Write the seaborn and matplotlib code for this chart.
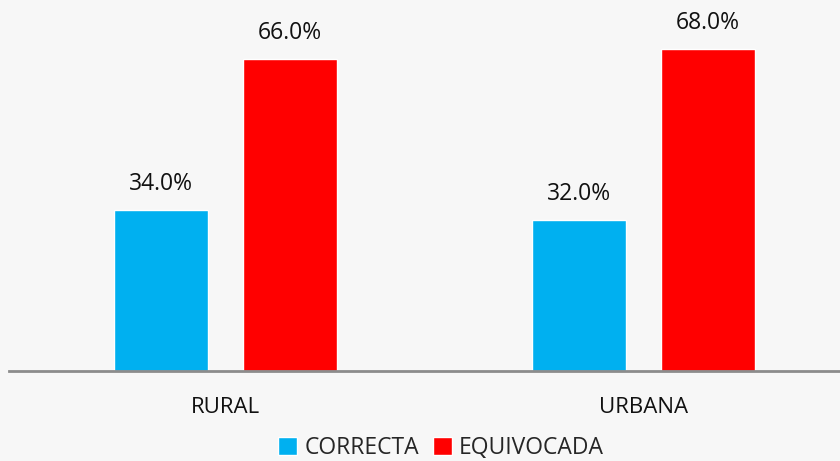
import pandas as pd
import seaborn as sns
import matplotlib.pyplot as plt

zonas = ['RURAL', 'URBANA']
respuestas = ['CORRECTA', 'EQUIVOCADA']
correcta = [34.0, 32.0]
equivocada = [66.0, 68.0]
colores = ['#00B0F0', '#FF0000']

data = pd.DataFrame({
    'zona': zonas * 2,
    'respuesta': [respuestas[0]] * 2 + [respuestas[1]] * 2,
    'pct': correcta + equivocada,
})

sns.set_theme(style='white')
plt.rcParams['font.family'] = ['Open Sans', 'DejaVu Sans']

fig = plt.figure(figsize=(8.4, 4.61), dpi=100)
fig.patch.set_facecolor('#F7F7F7')
ax = fig.add_axes([9 / 840, 90 / 461, 1 - 9 / 840, 1 - 90 / 461])
ax.set_facecolor('#F7F7F7')

sns.barplot(data=data, x='zona', y='pct', hue='respuesta', palette=colores,
            width=0.617, gap=0.27, saturation=1, ax=ax, legend=True)

for cont in ax.containers:
    ax.bar_label(cont, labels=['{:.1f}%'.format(v) for v in cont.datavalues],
                 padding=10, fontsize=16.5, color='#111111')

ax.set_xlim(-0.517, 1.47)
ax.set_ylim(0, 78.4)
ax.set_xlabel('')
ax.set_ylabel('')
ax.set_yticks([])
ax.tick_params(axis='x', length=0, pad=19, labelsize=16, labelcolor='#111111')
for s in ['top', 'right', 'left']:
    ax.spines[s].set_visible(False)
ax.spines['bottom'].set_color('#8C8C8C')
ax.spines['bottom'].set_linewidth(2)

h, l = ax.get_legend_handles_labels()
ax.legend_.remove()
fig.legend(h, l, loc='upper center', bbox_to_anchor=(441 / 840, 25 / 461), ncol=2,
           frameon=False, fontsize=16.5, handlelength=0.85, handleheight=0.85,
           handletextpad=0.3, columnspacing=0.6, borderaxespad=0, borderpad=0)

fig.savefig('out.png', dpi=100, facecolor=fig.get_facecolor())
